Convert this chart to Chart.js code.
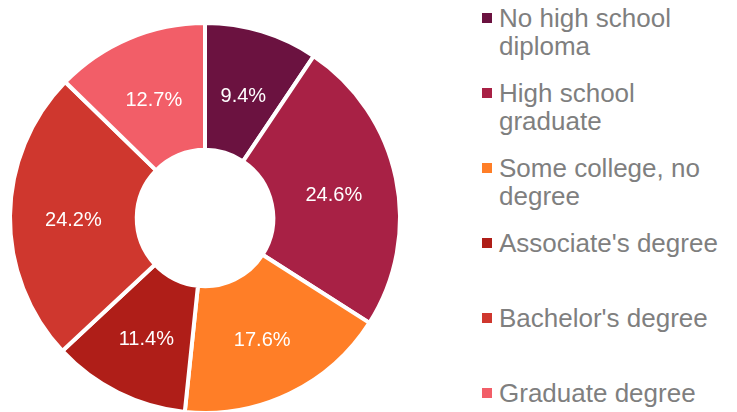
<!DOCTYPE html>
<html>
<head>
<meta charset="utf-8">
<script src="https://cdn.jsdelivr.net/npm/chart.js@4"></script>
<style>
  html, body { margin: 0; padding: 0; background: #fff; overflow: hidden; }
  body { width: 737px; height: 412px; position: relative; font-family: "Liberation Sans", Arial, sans-serif; }
  #myChart { position: absolute; left: 0; top: 0; }
  #legend { position: absolute; left: 0; top: 0; }
  .item { position: absolute; left: 482px; color: #7f7f7f; font-size: 26px; line-height: 28px; }
  .item .box { position: absolute; left: 0; top: 9px; width: 10px; height: 10px; }
  .item .txt { position: absolute; left: 17px; white-space: nowrap; }
</style>
</head>
<body>
<canvas id="myChart" width="410" height="430"></canvas>
<div id="legend"></div>
<script>
const labels = [
  ["No high school", "diploma"],
  ["High school", "graduate"],
  ["Some college, no", "degree"],
  ["Associate's degree"],
  ["Bachelor's degree"],
  ["Graduate degree"]
];
const shares = [9.4, 24.6, 17.6, 11.4, 24.2, 12.7];
const sliceColors = ["#6b1240", "#a82145", "#ff7e27", "#af1e18", "#cf372e", "#f25e68"];

// write the percentage in the middle of each ring segment
const sliceLabels = {
  id: 'sliceLabels',
  afterDatasetsDraw(chart) {
    const ctx = chart.ctx;
    const meta = chart.getDatasetMeta(0);
    ctx.save();
    ctx.fillStyle = '#ffffff';
    ctx.font = '20px "Liberation Sans", Arial, sans-serif';
    ctx.textAlign = 'center';
    ctx.textBaseline = 'middle';
    meta.data.forEach((arc, i) => {
      const pos = arc.tooltipPosition();
      ctx.fillText(shares[i].toFixed(1) + '%', pos.x, pos.y + 4);
    });
    ctx.restore();
  }
};

new Chart("myChart", {
  type: "doughnut",
  data: {
    labels: labels.map(l => l.join(' ')),
    datasets: [{
      data: shares,
      backgroundColor: sliceColors,
      borderColor: '#ffffff',
      borderWidth: 4
    }]
  },
  options: {
    responsive: false,
    animation: false,
    cutout: '35%',
    layout: { padding: { top: 21, bottom: 15, left: 8, right: 8 } },
    plugins: {
      legend: { display: false },
      tooltip: { enabled: false }
    }
  },
  plugins: [sliceLabels]
});

// legend on the right, one fixed slot per category
const legend = document.getElementById('legend');
labels.forEach((lines, i) => {
  const item = document.createElement('div');
  item.className = 'item';
  item.style.top = (4 + i * 75) + 'px';
  const box = document.createElement('div');
  box.className = 'box';
  box.style.background = sliceColors[i];
  const txt = document.createElement('div');
  txt.className = 'txt';
  txt.innerHTML = lines.join('<br>');
  item.appendChild(box);
  item.appendChild(txt);
  legend.appendChild(item);
});
</script>
</body>
</html>
